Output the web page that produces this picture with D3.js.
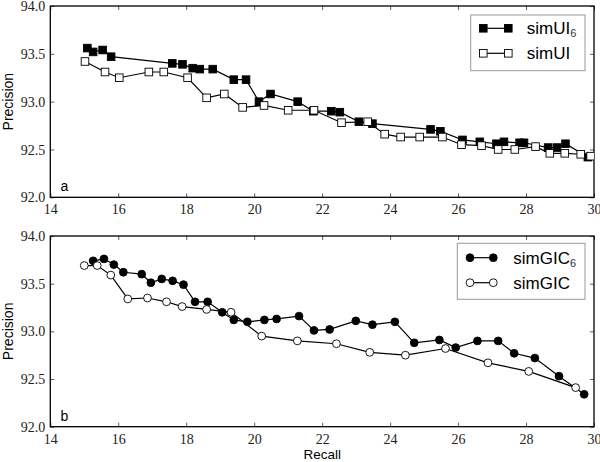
<!DOCTYPE html>
<html><head><meta charset="utf-8">
<script src="https://cdn.jsdelivr.net/npm/d3@7"></script>
<style>body{margin:0;background:#fff}svg{display:block}</style>
</head><body>
<svg id="c" width="600" height="462"></svg>
<script>
const xTicks = [14,16,18,20,22,24,26,28,30];
const yTicks = [92.0,92.5,93.0,93.5,94.0];

const simUI6X = [15.09,15.26,15.54,15.79,17.59,17.89,18.19,18.40,18.78,19.40,19.76,20.14,20.48,21.28,21.74,22.27,22.52,23.08,23.48,25.19,25.48,26.13,26.64,27.13,27.35,27.81,27.94,28.65,28.91,29.16,29.82];
const simUI6Y = [93.56,93.52,93.54,93.47,93.40,93.39,93.35,93.34,93.34,93.23,93.23,93.00,93.08,93.00,92.90,92.90,92.89,92.79,92.77,92.71,92.69,92.60,92.58,92.56,92.58,92.57,92.57,92.52,92.52,92.56,92.42];

const simUIX = [15.02,15.61,16.03,16.90,17.34,18.04,18.60,19.12,19.66,20.29,21.00,21.76,22.57,23.34,23.84,24.31,24.87,25.54,26.10,26.69,27.18,27.67,28.28,28.70,29.14,29.61,29.90];
const simUIY = [93.42,93.31,93.25,93.31,93.31,93.25,93.04,93.08,92.94,92.96,92.91,92.91,92.78,92.79,92.66,92.63,92.63,92.63,92.55,92.54,92.50,92.50,92.53,92.46,92.46,92.45,92.43];

const simGIC6X = [15.26,15.58,15.87,16.15,16.69,16.96,17.28,17.60,17.92,18.26,18.63,19.06,19.40,19.80,20.30,20.66,21.32,21.76,22.22,22.99,23.48,24.14,24.71,25.45,25.93,26.57,27.18,27.65,28.26,28.97,29.71];
const simGIC6Y = [93.74,93.76,93.70,93.62,93.60,93.51,93.55,93.53,93.49,93.31,93.31,93.20,93.12,93.10,93.12,93.13,93.16,93.01,93.02,93.11,93.07,93.10,92.88,92.91,92.83,92.90,92.90,92.77,92.72,92.53,92.34];

const simGICX = [15.00,15.38,15.78,16.28,16.86,17.42,17.88,18.60,19.32,20.22,21.27,22.42,23.40,24.45,25.63,26.88,28.08,29.46];
const simGICY = [93.69,93.69,93.59,93.34,93.35,93.31,93.26,93.23,93.20,92.95,92.90,92.87,92.78,92.75,92.82,92.67,92.58,92.41];

const svg = d3.select("#c");
const X0 = 50.3, X1 = 594;
const x = d3.scaleLinear().domain([14,30]).range([X0, X1]);
const SERIF = "Liberation Serif";
const SANS = "Liberation Sans";

function panel(id, top, bottom, series, legend, label) {
  const y = d3.scaleLinear().domain([92,94]).range([bottom, top]);
  const g = svg.append("g");
  const clipId = "clip" + id;
  svg.append("defs").append("clipPath").attr("id", clipId)
    .append("rect").attr("x", X0).attr("y", top).attr("width", X1 - X0).attr("height", bottom - top);

  const axB = d3.axisBottom(x).tickValues(xTicks).tickSizeInner(-4).tickSizeOuter(0).tickFormat(d3.format("d"));
  const axT = d3.axisTop(x).tickValues(xTicks).tickSizeInner(-4).tickSizeOuter(0).tickFormat("");
  const axL = d3.axisLeft(y).tickValues(yTicks).tickSizeInner(-4).tickSizeOuter(0).tickFormat(d3.format(".1f"));
  const axR = d3.axisRight(y).tickValues(yTicks).tickSizeInner(-4).tickSizeOuter(0).tickFormat("");

  const gb = g.append("g").attr("transform", `translate(0,${bottom})`).call(axB);
  const gt = g.append("g").attr("transform", `translate(0,${top})`).call(axT);
  const gl = g.append("g").attr("transform", `translate(${X0},0)`).call(axL);
  const gr = g.append("g").attr("transform", `translate(${X1},0)`).call(axR);
  [gb,gt,gl,gr].forEach(a => { a.attr("font-family", SERIF).attr("font-size", 14); a.select(".domain").remove(); a.selectAll(".tick line").attr("stroke","#333").attr("stroke-width",0.8); });
  gb.selectAll(".tick text").attr("fill","#222").attr("y", 7).attr("dy","0.71em");
  gl.selectAll(".tick text").attr("fill","#222").attr("x", -5).attr("dy","0.33em");

  g.append("rect").attr("x", X0).attr("y", top).attr("width", X1 - X0).attr("height", bottom - top)
    .attr("fill","none").attr("stroke","#000").attr("stroke-width",1.3);

  const plot = g.append("g").attr("clip-path", `url(#${clipId})`);
  const line = d3.line().x(d => x(d[0])).y(d => y(d[1]));
  series.forEach(s => {
    const pts = s.xs.map((v,i) => [v, s.ys[i]]);
    plot.append("path").datum(pts).attr("d", line).attr("fill","none").attr("stroke","#000").attr("stroke-width",1.2);
    drawMarkers(plot, pts.map(p => [x(p[0]), y(p[1])]), s.shape, s.fill);
  });

  g.append("text").attr("x", 60.5).attr("y", bottom - 6).attr("font-family", SANS).attr("font-size", 14).text(label);

  g.append("text").attr("transform", `translate(12.5,${(top+bottom)/2}) rotate(-90)`)
    .attr("text-anchor","middle").attr("font-family", SANS).attr("font-size", 14).text("Precision");

  const L = legend;
  g.append("rect").attr("x", L.x).attr("y", L.y).attr("width", L.w).attr("height", L.h)
    .attr("fill","#fff").attr("stroke","#999").attr("stroke-width",1);
  series.forEach((s,i) => {
    const yy = L.y + L.row0 + i*25;
    g.append("line").attr("x1", L.m1).attr("x2", L.m2).attr("y1", yy).attr("y2", yy).attr("stroke","#000").attr("stroke-width",1.2);
    drawMarkers(g, [[L.m1,yy],[L.m2,yy]], s.shape, s.fill);
    const t = g.append("text").attr("x", L.tx).attr("y", yy + 6).attr("font-family", SANS).attr("font-size", 17);
    t.append("tspan").text(s.name);
    if (s.sub) t.append("tspan").attr("font-size", 11).attr("dy", 3).attr("fill","#333").text(s.sub);
  });
}

function drawMarkers(sel, pts, shape, fill) {
  if (shape === "square") {
    const sz = 7.6;
    sel.selectAll(null).data(pts).enter().append("rect")
      .attr("x", d => d[0] - sz/2).attr("y", d => d[1] - sz/2).attr("width", sz).attr("height", sz)
      .attr("fill", fill).attr("stroke", "#000").attr("stroke-width", 0.9);
  } else {
    sel.selectAll(null).data(pts).enter().append("circle")
      .attr("cx", d => d[0]).attr("cy", d => d[1]).attr("r", 3.9)
      .attr("fill", fill).attr("stroke", "#000").attr("stroke-width", 0.9);
  }
}

panel("a", 6, 197.3, [
  {name:"simUI", sub:"6", xs:simUI6X, ys:simUI6Y, shape:"square", fill:"#000"},
  {name:"simUI", sub:"", xs:simUIX, ys:simUIY, shape:"square", fill:"#fff"}
], {x:470.7, y:15, w:114.3, h:55.7, row0:13.3, m1:483.3, m2:508.3, tx:526.7}, "a");

panel("b", 236, 426.7, [
  {name:"simGIC", sub:"6", xs:simGIC6X, ys:simGIC6Y, shape:"circle", fill:"#000"},
  {name:"simGIC", sub:"", xs:simGICX, ys:simGICY, shape:"circle", fill:"#fff"}
], {x:457.3, y:243.3, w:127.7, h:56, row0:14.4, m1:470, m2:493.3, tx:513.3}, "b");

svg.append("text").attr("x", (X0+X1)/2).attr("y", 459).attr("text-anchor","middle")
  .attr("font-family", SANS).attr("font-size", 13.5).text("Recall");
</script>
</body></html>
